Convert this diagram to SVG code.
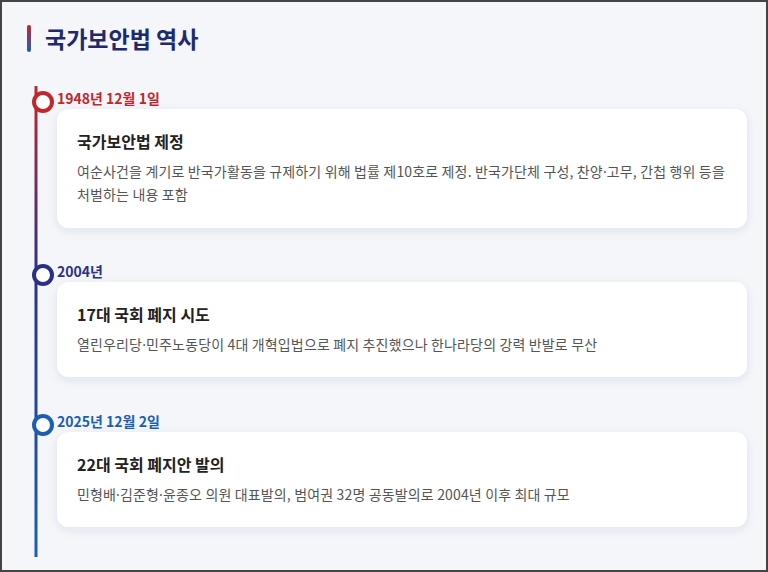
<svg xmlns="http://www.w3.org/2000/svg" width="768" height="572" viewBox="0 0 768 572">
<defs>
<linearGradient id="accent" x1="0" y1="0" x2="0" y2="1">
<stop offset="0" stop-color="#c0282d"/><stop offset="1" stop-color="#1a5fb4"/>
</linearGradient>
<linearGradient id="tl" x1="0" y1="86" x2="0" y2="557" gradientUnits="userSpaceOnUse">
<stop offset="0" stop-color="#c0282d"/><stop offset="0.4" stop-color="#2b3087"/><stop offset="1" stop-color="#1a5fb4"/>
</linearGradient>
<filter id="sh" x="-5%" y="-20%" width="110%" height="150%">
<feDropShadow dx="0" dy="3" stdDeviation="5" flood-color="#1f2a6b" flood-opacity="0.09"/>
</filter>
</defs>
<style>
text{font-family:"Noto Sans CJK KR","Noto Sans",sans-serif}
.title{font-size:23px;font-weight:700;fill:#1f2a6b}
.date{font-size:14px;font-weight:700}
.ct{font-size:16px;font-weight:700;fill:#222}
.cd{font-size:14px;fill:#555;letter-spacing:0.15px}
.md{font-family:"Noto Sans",sans-serif}
.card{fill:#fff;filter:url(#sh)}
.dot{fill:#fff;stroke-width:4}
</style>
<rect x="0" y="0" width="768" height="572" fill="#444"/>
<rect x="2" y="2" width="764" height="568" fill="#f4f6fa"/>
<rect x="27" y="25" width="4" height="27" rx="2" fill="url(#accent)"/>
<text class="title" x="45" y="48">국가보안법 역사</text>
<g id="connectors">
<rect x="34.5" y="86" width="3" height="471" fill="url(#tl)"/>
</g>
<g id="e1">
<circle class="dot" cx="43" cy="102" r="9" stroke="#c0282d"/>
<text class="date" x="57" y="104" fill="#c0282d">1948년 12월 1일</text>
<rect class="card" x="57" y="109" width="690" height="119" rx="12"/>
<text class="ct" x="77" y="148">국가보안법 제정</text>
<text class="cd" x="77" y="177">여순사건을 계기로 반국가활동을 규제하기 위해 법률 제10호로 제정. 반국가단체 구성, 찬양<tspan class="md">·</tspan>고무, 간첩 행위 등을</text>
<text class="cd" x="77" y="200">처벌하는 내용 포함</text>
</g>
<g id="e2">
<circle class="dot" cx="43" cy="275" r="9" stroke="#2b3087"/>
<text class="date" x="57" y="277" fill="#2b3087">2004년</text>
<rect class="card" x="57" y="282" width="690" height="95" rx="12"/>
<text class="ct" x="77" y="321">17대 국회 폐지 시도</text>
<text class="cd" x="77" y="350">열린우리당<tspan class="md">·</tspan>민주노동당이 4대 개혁입법으로 폐지 추진했으나 한나라당의 강력 반발로 무산</text>
</g>
<g id="e3">
<circle class="dot" cx="43" cy="425" r="9" stroke="#1a5fb4"/>
<text class="date" x="57" y="427" fill="#1a5fb4">2025년 12월 2일</text>
<rect class="card" x="57" y="432" width="690" height="95" rx="12"/>
<text class="ct" x="77" y="471">22대 국회 폐지안 발의</text>
<text class="cd" x="77" y="500">민형배<tspan class="md">·</tspan>김준형<tspan class="md">·</tspan>윤종오 의원 대표발의, 범여권 32명 공동발의로 2004년 이후 최대 규모</text>
</g>
</svg>
